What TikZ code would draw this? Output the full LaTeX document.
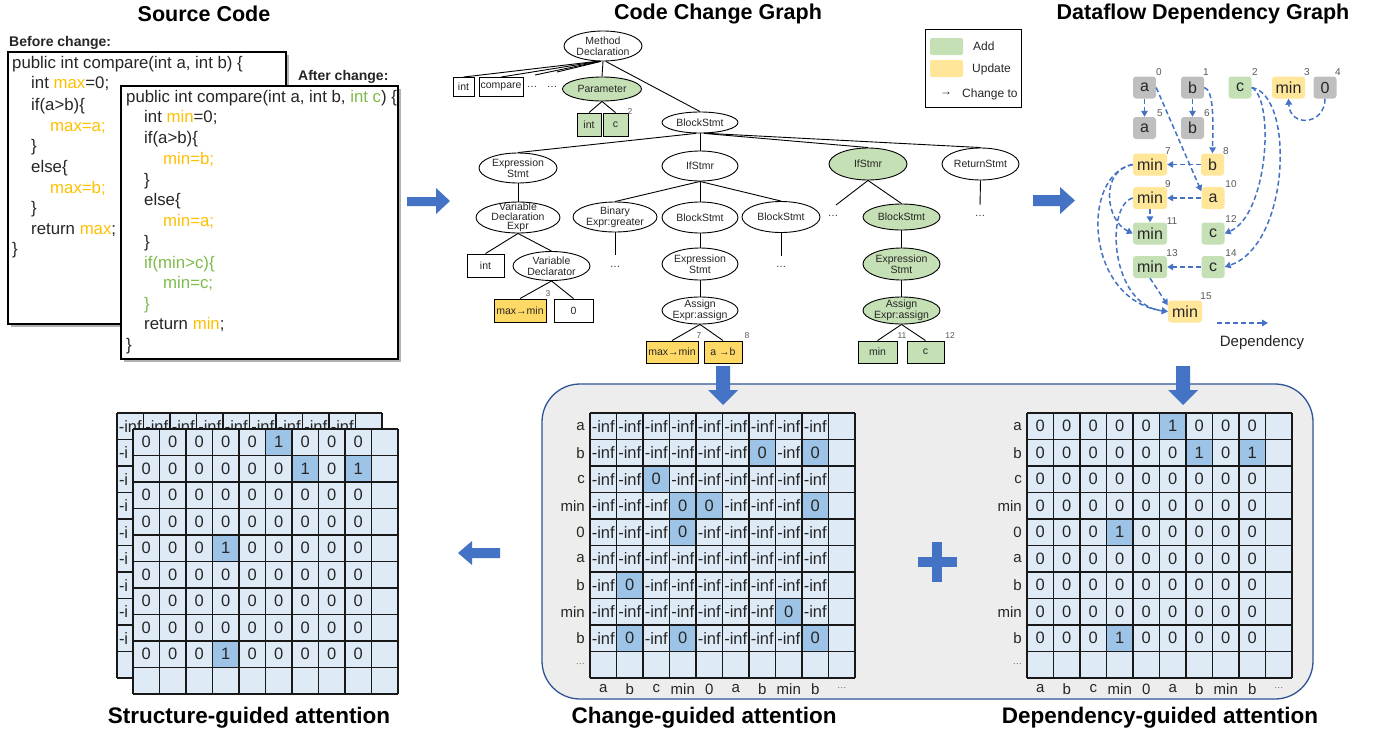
\documentclass[tikz,border=0pt]{standalone}
\usepackage{fontspec}
\setmainfont{Liberation Sans}
\usetikzlibrary{shapes.geometric,arrows.meta,calc}
\definecolor{gold}{HTML}{FFC000}
\definecolor{gtext}{HTML}{7DBB4C}
\definecolor{addg}{HTML}{C5E0B4}
\definecolor{updl}{HTML}{FFE699}
\definecolor{updd}{HTML}{FFD966}
\definecolor{grayn}{HTML}{BFBFBF}
\definecolor{ablue}{HTML}{4472C4}
\definecolor{cellfill}{HTML}{DEEBF7}
\definecolor{cellhl}{HTML}{9DC3E6}
\definecolor{panelfill}{HTML}{EDEDED}
\definecolor{panelb}{HTML}{2F5597}
\definecolor{txt}{HTML}{262626}
\definecolor{idxc}{HTML}{595959}

\newcommand\gnode[6]{%
  \node[#1,minimum width=#4,minimum height=#5] (#2) at (#3) {};
  \node[etxt] (#2t) at (#2) {#6};}

\newcommand\attmat[6]{%
  \fill[cellfill] (#2,#3) rectangle ++(265,265);
  \foreach \row [count=\ri] in #4 {
    \foreach \v [count=\ci] in \row {
      \ifnum\v=1
        \fill[cellhl] ({#2+(\ci-1)*26.5},{#3+(\ri-1)*26.5}) rectangle ++(26.5,26.5);
        \node[mtext] (#1-\ri-\ci) at ({#2+(\ci-0.5)*26.5},{#3+(\ri-0.5)*26.5}) {#6};
      \else
        \node[mtext] (#1-\ri-\ci) at ({#2+(\ci-0.5)*26.5},{#3+(\ri-0.5)*26.5}) {#5};
      \fi
    }
  }
  \matgrid{#2}{#3}
}
\newcommand\matgrid[2]{%
  \foreach \i in {0,...,10} {
    \draw[gridl] ({#1+\i*26.5},#2) -- ++(0,265);
    \draw[gridl] (#1,{#2+\i*26.5}) -- ++(265,0);
  }
}

\def\chgpat{{0,0,0,0,0,0,0,0,0},{0,0,0,0,0,0,1,0,1},{0,0,1,0,0,0,0,0,0},{0,0,0,1,1,0,0,0,1},{0,0,0,1,0,0,0,0,0},{0,0,0,0,0,0,0,0,0},{0,1,0,0,0,0,0,0,0},{0,0,0,0,0,0,0,1,0},{0,1,0,1,0,0,0,0,1}}
\def\deppat{{0,0,0,0,0,1,0,0,0},{0,0,0,0,0,0,1,0,1},{0,0,0,0,0,0,0,0,0},{0,0,0,0,0,0,0,0,0},{0,0,0,1,0,0,0,0,0},{0,0,0,0,0,0,0,0,0},{0,0,0,0,0,0,0,0,0},{0,0,0,0,0,0,0,0,0},{0,0,0,1,0,0,0,0,0}}

\begin{document}
\begin{tikzpicture}[x=1pt,y=-1pt,
  title/.style={font=\bfseries\fontsize{21.5}{24}\selectfont,text=black,inner sep=0},
  btitle/.style={font=\bfseries\fontsize{22.5}{24}\selectfont,text=black,inner sep=0},
  subt/.style={font=\bfseries\fontsize{14}{16}\selectfont,text=txt,inner sep=0,anchor=west},
  code/.style={font=\fontsize{16.8}{20}\selectfont,text=txt,inner sep=0,anchor=west,text height=12pt,text depth=3.5pt},
  ell/.style={ellipse,draw,line width=0.9pt,inner sep=0,fill=white},
  gell/.style={ell,fill=addg},
  etxt/.style={font=\fontsize{10.5}{11}\selectfont,align=center,inner sep=0,text=txt},
  bx/.style={rectangle,draw,line width=0.9pt,inner sep=0,fill=white,font=\fontsize{10.5}{11}\selectfont,text=txt},
  ybx/.style={bx,fill=updd},
  gbx/.style={bx,fill=addg},
  dots/.style={font=\fontsize{10.5}{11}\selectfont,inner sep=0,text=txt},
  idx/.style={font=\fontsize{8.5}{9}\selectfont,inner sep=0,text=idxc},
  edge/.style={line width=0.9pt,draw=black},
  dnode/.style={rectangle,rounded corners=3pt,inner sep=0,minimum width=23,minimum height=22,font=\fontsize{16}{16}\selectfont,text=txt},
  dwide/.style={dnode,minimum width=34},
  didx/.style={font=\fontsize{10}{10}\selectfont,inner sep=0,text=idxc},
  dep/.style={draw=ablue,line width=1.5pt,dash pattern=on 5pt off 3pt,-{Triangle[length=6pt,width=6.5pt]}},
  mtext/.style={font=\fontsize{16.5}{17}\selectfont,inner sep=0,text=txt},
  gridl/.style={line width=1.3pt,draw=black!90},
  mlab/.style={font=\fontsize{15}{15}\selectfont,inner sep=0,text=txt},
  mdots/.style={font=\fontsize{9}{9}\selectfont,inner sep=0,text=idxc},
  leg/.style={font=\fontsize{12}{12}\selectfont,inner sep=0,text=txt}
]
\useasboundingbox (0,0) rectangle (1380,736);
\fill[white] (0,0) rectangle (1380,736);

% ---------------- titles ----------------
\node[title] (t1) at (204,14) {Source Code};
\node[title] (t2) at (718,14) {Code Change Graph};
\node[title] (t3) at (1203,14) {Dataflow Dependency Graph};
\node[btitle] (t4) at (249,718) {Structure-guided attention};
\node[btitle] (t5) at (704,718) {Change-guided attention};
\node[btitle] (t6) at (1160,718) {Dependency-guided attention};

% ---------------- source code ----------------
\node[subt] (bch) at (9,43) {Before change:};
\fill[black!30] (11,55) rectangle (289,327);
\draw[line width=1.1pt,fill=white] (8,52) rectangle (286,324);
\node[code] (b1) at (12,64) {public int compare(int a, int b) \{};
\node[code] (b2) at (31,84) {int {\color{gold}max}=0;};
\node[code] (b3) at (31,106) {if(a>b)\{};
\node[code] (b4) at (50,127) {\color{gold}max=a;};
\node[code] (b5) at (31,147) {\}};
\node[code] (b6) at (31,168) {else\{};
\node[code] (b7) at (50,189) {\color{gold}max=b;};
\node[code] (b8) at (31,209) {\}};
\node[code] (b9) at (31,230) {return {\color{gold}max};};
\node[code] (b10) at (12,250) {\}};

\node[subt] (ach) at (298,77) {After change:};
\fill[black!30] (124,89) rectangle (401,362);
\draw[line width=1.1pt,fill=white] (121,86) rectangle (398,359);
\node[code] (a1) at (126,98) {public int compare(int a, int b, {\color{gtext}int c}) \{};
\node[code] (a2) at (144,118) {int {\color{gold}min}=0;};
\node[code] (a3) at (144,139) {if(a>b)\{};
\node[code] (a4) at (163,160) {\color{gold}min=b;};
\node[code] (a5) at (144,181) {\}};
\node[code] (a6) at (144,201) {else\{};
\node[code] (a7) at (163,222) {\color{gold}min=a;};
\node[code] (a8) at (144,243) {\}};
\node[code] (a9) at (144,264) {\color{gtext}if(min>c)\{};
\node[code] (a10) at (163,284) {\color{gtext}min=c;};
\node[code] (a11) at (144,305) {\color{gtext}\}};
\node[code] (a12) at (144,325) {return {\color{gold}min};};
\node[code] (a13) at (126,346) {\}};

% ---------------- block arrows ----------------
\fill[ablue] (407,197) -- (436,197) -- (436,188) -- (450,201) -- (436,214) -- (436,206) -- (407,206) -- cycle;
\fill[ablue] (1033,195) -- (1060,195) -- (1060,187) -- (1075,200.5) -- (1060,214) -- (1060,206) -- (1033,206) -- cycle;

% ---------------- code change graph ----------------
\gnode{ell}{md}{603,46}{78}{30}{Method\\Declaration}
\gnode{gell}{par}{602,89}{79}{24}{Parameter}
\gnode{ell}{bs}{700,122.5}{76}{21}{BlockStmt}
\gnode{ell}{es1}{518,168}{78}{30}{Expression\\Stmt}
\gnode{ell}{if1}{700,166}{76}{30}{IfStmr}
\gnode{gell}{if2}{868,164}{78}{32}{IfStmr}
\gnode{ell}{ret}{980.5,164}{77}{32}{ReturnStmt}
\gnode{ell}{vde}{518,217.5}{84}{31}{Variable\\[-1.5pt]Declaration\\[-1.5pt]Expr}
\gnode{ell}{bin}{615,217}{84}{30}{Binary\\Expr:greater}
\gnode{ell}{bs2}{700,217.5}{76}{31}{BlockStmt}
\gnode{ell}{bs3}{781,217}{78}{31}{BlockStmt}
\gnode{gell}{bs4}{901.5,217}{77}{26}{BlockStmt}
\gnode{ell}{vd}{551.5,266}{77}{29}{Variable\\Declarator}
\gnode{ell}{es2}{700,264}{76}{32}{Expression\\Stmt}
\gnode{gell}{es3}{901.5,264}{77}{32}{Expression\\Stmt}
\gnode{ell}{as1}{700,310.5}{76}{27}{Assign\\Expr:assign}
\gnode{gell}{as2}{901.5,310.5}{77}{27}{Assign\\Expr:assign}

\node[bx,minimum width=21,minimum height=19] (bint) at (463.5,87) {int};
\node[bx,minimum width=44,minimum height=19] (bcmp) at (501,87) {compare};
\node[gbx,minimum width=24,minimum height=23] (pint) at (589,124.5) {int};
\node[gbx,minimum width=25,minimum height=23] (pc) at (615.5,124.5) {c};
\node[bx,minimum width=37,minimum height=23] (vint) at (485.5,265.5) {int};
\node[ybx,minimum width=52,minimum height=23] (mm1) at (520,310.5) {max→min};
\node[bx,minimum width=39,minimum height=23] (zero) at (573.5,310.5) {0};
\node[ybx,minimum width=52,minimum height=22] (mm2) at (672,352) {max→min};
\node[ybx,minimum width=38,minimum height=22] (ab) at (723,352) {a →b};
\node[gbx,minimum width=39,minimum height=22] (gmin) at (877.5,352) {min};
\node[gbx,minimum width=37,minimum height=22] (gc) at (925.5,352) {c};

\node[dots] (d1) at (532,87) {…};
\node[dots] (d2) at (552,87) {…};
\node[dots] (d3) at (615,267) {…};
\node[dots] (d4) at (781,267) {…};
\node[dots] (d5) at (833,216) {…};
\node[dots] (d6) at (980,216) {…};

\node[idx] (i2) at (630,112) {2};
\node[idx] (i3) at (548,294) {3};
\node[idx] (i7) at (699,336) {7};
\node[idx] (i8) at (747,336) {8};
\node[idx] (i11) at (902,336) {11};
\node[idx] (i12) at (950,336) {12};

\coordinate (e1) at (535,75);
\coordinate (e2) at (557,72);
\coordinate (e3) at (836,205);
\coordinate (e4) at (980,205);
\coordinate (e5) at (615,255);
\coordinate (e6) at (781,256);

\draw[edge] (md.250) -- (bint.north);
\draw[edge] (md.254) -- (bcmp.north);
\draw[edge] (md.258) -- (e1);
\draw[edge] (md.262) -- (e2);
\draw[edge] (md.south) -- (par.north);
\draw[edge] (md.280) -- (bs.north);
\draw[edge] (par.south) -- (pint.north);
\draw[edge] (par.south) -- (pc.north);
\draw[edge] (bs.250) -- (es1.north);
\draw[edge] (bs.south) -- (if1.north);
\draw[edge] (bs.290) -- (if2.north);
\draw[edge] (bs.300) -- (ret.north);
\draw[edge] (es1.south) -- (vde.north);
\draw[edge] (if1.south) -- (bin.north);
\draw[edge] (if1.south) -- (bs2.north);
\draw[edge] (if1.south) -- (bs3.north);
\draw[edge] (if2.south) -- (e3);
\draw[edge] (if2.south) -- (bs4.north);
\draw[edge] (ret.south) -- (e4);
\draw[edge] (vde.south) -- (vint.north);
\draw[edge] (vde.south) -- (vd.north);
\draw[edge] (bin.south) -- (e5);
\draw[edge] (bs2.south) -- (es2.north);
\draw[edge] (bs3.south) -- (e6);
\draw[edge] (bs4.south) -- (es3.north);
\draw[edge] (vd.south) -- (mm1.north);
\draw[edge] (vd.south) -- (zero.north);
\draw[edge] (es2.south) -- (as1.north);
\draw[edge] (es3.south) -- (as2.north);
\draw[edge] (as1.south) -- (mm2.north);
\draw[edge] (as1.south) -- (ab.north);
\draw[edge] (as2.south) -- (gmin.north);
\draw[edge] (as2.south) -- (gc.north);

% legend
\draw[line width=0.9pt] (925,29) rectangle (1021,107);
\fill[addg,rounded corners=2pt] (930,38) rectangle (963,55);
\fill[updl,rounded corners=2pt] (930,60) rectangle (963,77);
\node[leg,anchor=west] (ladd) at (973,46) {Add};
\node[leg,anchor=west] (lupd) at (972,69) {Update};
\node[leg] (larr) at (946,94) {→};
\node[leg,anchor=west] (lchg) at (962,94) {Change to};

% ---------------- dataflow graph ----------------
\node[dnode,fill=grayn] (a0) at (1144.5,87.5) {a};
\node[dnode,fill=grayn] (b1n) at (1192.5,87.5) {b};
\node[dnode,fill=addg] (c2) at (1240,87.5) {c};
\node[dwide,minimum width=33,fill=updl] (m3) at (1288.5,87.5) {min};
\node[dnode,fill=grayn] (z4) at (1325,87.5) {0};
\node[dnode,fill=grayn] (a5) at (1144.5,128) {a};
\node[dnode,fill=grayn] (b6) at (1192.5,128) {b};
\node[dwide,fill=updl] (m7) at (1150,164.5) {min};
\node[dnode,fill=updl] (b8) at (1212.5,164.5) {b};
\node[dwide,fill=updl] (m9) at (1150,198) {min};
\node[dnode,fill=updl] (a10) at (1213,198) {a};
\node[dwide,fill=addg] (m11) at (1150,233.5) {min};
\node[dnode,fill=addg] (c12) at (1213,233.5) {c};
\node[dwide,fill=addg] (m13) at (1150,267) {min};
\node[dnode,fill=addg] (c14) at (1213,267) {c};
\node[dwide,fill=updl] (m15) at (1185,311.5) {min};

\node[didx] (n0) at (1159,72) {0};
\node[didx] (n1) at (1206,72) {1};
\node[didx] (n2) at (1255,72) {2};
\node[didx] (n3) at (1307,72) {3};
\node[didx] (n4) at (1338,72) {4};
\node[didx] (n5) at (1160,113) {5};
\node[didx] (n6) at (1207,113) {6};
\node[didx] (n7) at (1168,151) {7};
\node[didx] (n8) at (1226,151) {8};
\node[didx] (n9) at (1168,184) {9};
\node[didx] (n10) at (1231,184) {10};
\node[didx] (n11) at (1172,221) {11};
\node[didx] (n12) at (1231,219) {12};
\node[didx] (n13) at (1172,253) {13};
\node[didx] (n14) at (1231,253) {14};
\node[didx] (n15) at (1206,296) {15};

\draw[dep] (a0.south) -- (a5.north);
\draw[dep] (b1n.south) -- (b6.north);
\draw[dep] (b1n.east) .. controls (1214,90) and (1213,120) .. (b8.north);
\draw[dep] (a0.east) -- (a10.150);
\draw[dep] (b8.west) -- (m7.east);
\draw[dep] (a10.west) -- (m9.east);
\draw[dep] (m9.south) -- (m11.north);
\draw[dep] (c14.west) -- (m13.east);
\draw[dep] (c2.east) .. controls (1275,100) and (1268,215) .. (c12.east);
\draw[dep] (c2.east) .. controls (1295,95) and (1290,245) .. (c14.east);
\draw[dep] (z4.south) .. controls (1325,125) and (1290,128) .. (m3.south);
\draw[dep] (m7.west) .. controls (1100,170) and (1105,220) .. (m11.west);
\draw[dep] (m7.west) .. controls (1080,175) and (1085,300) .. (m15.west);
\draw[dep] (m9.west) .. controls (1105,205) and (1110,305) .. (m15.west);
\draw[dep] (m13.south) -- (m15.160);

\coordinate (dl1) at (1217,323);
\coordinate (dl2) at (1268,323);
\draw[dep] (dl1) -- (dl2);
\node[font=\fontsize{15}{15}\selectfont,inner sep=0,text=txt] (dlab) at (1262,343) {Dependency};

% ---------------- panel ----------------
\draw[panelb,line width=1.3pt,fill=panelfill,rounded corners=38pt] (542,384) rectangle (1313,699);

\attmat{cm}{590}{413}{\chgpat}{-inf}{0}
\attmat{dm}{1027}{413}{\deppat}{0}{1}

\foreach \lab [count=\ri] in {a,b,c,min,0,a,b,min,b} {
  \node[mlab,anchor=east] (cr\ri) at (585,{413+(\ri-0.5)*26.5}) {\lab};
  \node[mlab,anchor=east] (dr\ri) at (1022,{413+(\ri-0.5)*26.5}) {\lab};
  \node[mlab] (cc\ri) at ({590+(\ri-0.5)*26.5},689) {\lab};
  \node[mlab] (dc\ri) at ({1027+(\ri-0.5)*26.5},689) {\lab};
}
\node[mdots,anchor=east] (cr10) at (585,{413+9.5*26.5}) {···};
\node[mdots,anchor=east] (dr10) at (1022,{413+9.5*26.5}) {···};
\node[mdots] (cc10) at ({590+9.5*26.5},689) {···};
\node[mdots] (dc10) at ({1027+9.5*26.5},689) {···};

% plus
\fill[ablue] (918,557) rectangle (957,567);
\fill[ablue] (932,542) rectangle (942,582);

% down arrows
\fill[ablue] (716,366) -- (730,366) -- (730,390) -- (738,390) -- (723,405) -- (708,390) -- (716,390) -- cycle;
\fill[ablue] (1176,366) -- (1190,366) -- (1190,390) -- (1198,390) -- (1183,405) -- (1168,390) -- (1176,390) -- cycle;

% ---------------- structure-guided ----------------
\fill[cellfill] (117,413) rectangle ++(265,265);
\foreach \ci in {1,...,9} {
  \node[mtext] (sb-1-\ci) at ({117+(\ci-0.5)*26.5},426.25) {-inf};
}
\foreach \ri in {2,...,9} {
  \node[mtext,anchor=west] (sb-\ri-1) at (118.8,{413+(\ri-0.5)*26.5}) {-i};
}
\matgrid{117}{413}
\attmat{sf}{133}{429}{\deppat}{0}{1}

% left arrow
\fill[ablue] (500,548) -- (472,548) -- (472,541) -- (458,553) -- (472,565) -- (472,558) -- (500,558) -- cycle;

\end{tikzpicture}
\end{document}
